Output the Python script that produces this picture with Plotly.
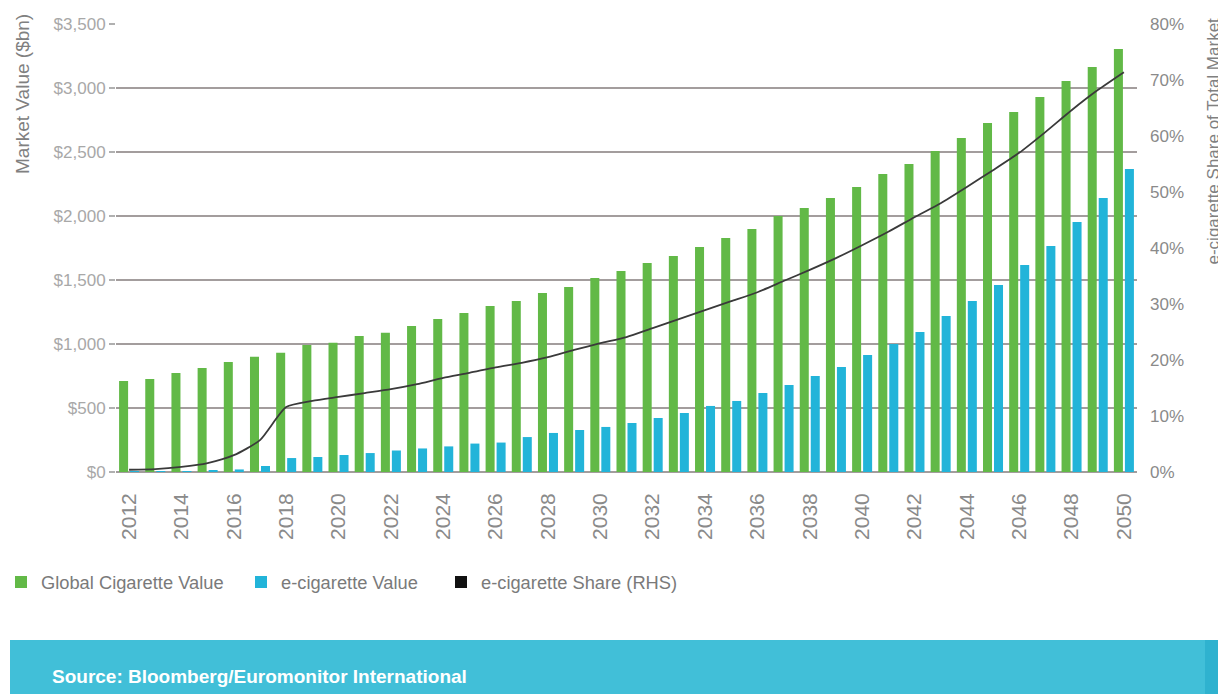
import plotly.graph_objects as go

# ---------------- data ----------------
years = [str(y) for y in range(2012, 2051)]

cig_value = [711, 727, 773, 813, 859, 901, 932, 992, 1010, 1063,
             1088, 1141, 1195, 1242, 1297, 1336, 1398, 1445, 1516, 1570,
             1633, 1688, 1758, 1828, 1898, 2000, 2063, 2141, 2227, 2328,
             2406, 2508, 2609, 2727, 2813, 2930, 3055, 3164, 3305]

ecig_value = [3, 5, 7, 10, 20, 47, 109, 117, 133, 148,
              168, 184, 200, 222, 230, 273, 305, 328, 352, 383,
              422, 461, 516, 555, 617, 680, 750, 820, 914, 1000,
              1094, 1219, 1336, 1461, 1617, 1766, 1953, 2141, 2367]

ecig_share = [0.4, 0.5, 0.9, 1.6, 3.0, 5.7, 11.6, 12.7, 13.4, 14.1,
              14.8, 15.7, 16.8, 17.7, 18.7, 19.5, 20.5, 21.8, 23.0, 24.1,
              25.7, 27.3, 28.9, 30.5, 32.1, 34.1, 36.1, 38.2, 40.5, 42.9,
              45.5, 48.0, 50.9, 53.9, 57.0, 60.7, 64.6, 68.2, 71.4]

left_tickvals = [0, 500, 1000, 1500, 2000, 2500, 3000, 3500]
left_ticktext = ["$0", "$500", "$1,000", "$1,500", "$2,000", "$2,500", "$3,000", "$3,500"]
right_tickvals = [0, 10, 20, 30, 40, 50, 60, 70, 80]
right_ticktext = ["0%", "10%", "20%", "30%", "40%", "50%", "60%", "70%", "80%"]
year_ticks = years[::2]

series_names = ["Global Cigarette Value", "e-cigarette Value", "e-cigarette Share (RHS)"]
source_text = "Source: Bloomberg/Euromonitor International"

# ---------------- layout geometry (page pixels) ----------------
PAGE_W, PAGE_H = 1226, 694
OFF = 8                      # default body margin of the html page
W_PX, H_PX = PAGE_W - OFF, PAGE_H - OFF
L, R, T, B = 116, 1137, 24, 472   # plot area in page pixels
PW, PH = R - L, B - T


def px_x(p):
    return (p - L) / PW


def px_y(p):
    return (B - p) / PH


GREEN = "#62b947"
BLUE = "#22b4d9"
LINE = "#3a3a3a"
GRID = "#a39d9d"
TXT = "#8a8a8a"
FONT = "Liberation Sans, Arial, sans-serif"

fig = go.Figure()
fig.add_trace(go.Bar(x=years, y=cig_value, name=series_names[0], legend="legend",
                     marker=dict(color=GREEN, line=dict(width=0))))
fig.add_trace(go.Bar(x=years, y=ecig_value, name=series_names[1], legend="legend2",
                     marker=dict(color=BLUE, line=dict(width=0))))
fig.add_trace(go.Scatter(x=years, y=ecig_share, name=series_names[2], yaxis="y2",
                         mode="lines", line=dict(color=LINE, width=1.8, shape="spline", smoothing=0.6),
                         showlegend=False))
# legend entry for the share line drawn as a black square, like the reference
fig.add_trace(go.Scatter(x=[None], y=[None], name=series_names[2], yaxis="y2", legend="legend3",
                         mode="markers", marker=dict(symbol="square", color="#111111", size=12)))


def legend_at(px_left):
    return dict(orientation="h", x=px_x(px_left), xanchor="left", y=px_y(582), yanchor="middle",
                font=dict(size=18.3, color="#7a7a7a", family=FONT),
                bgcolor="rgba(0,0,0,0)", itemclick=False)


fig.update_layout(
    width=W_PX, height=H_PX,
    margin=dict(l=L - OFF, r=PAGE_W - R, t=T - OFF, b=PAGE_H - B, pad=0, autoexpand=False),
    paper_bgcolor="white", plot_bgcolor="white",
    barmode="group", bargap=0.16, bargroupgap=0.18,
    font=dict(family=FONT, color=TXT, size=16),
    showlegend=True,
    legend=legend_at(1),
    legend2=legend_at(241),
    legend3=legend_at(441),
    xaxis=dict(type="category", range=[-0.5, len(years) - 0.5],
               tickmode="array", tickvals=year_ticks, ticktext=year_ticks,
               tickangle=-90, tickfont=dict(size=21, color=TXT),
               showgrid=False, showline=False, ticks="", zeroline=False,
               ticklabelstandoff=16),
    yaxis=dict(range=[0, 3500], tickmode="array", tickvals=left_tickvals, ticktext=left_ticktext,
               showgrid=True, gridcolor=GRID, gridwidth=2,
               zeroline=True, zerolinecolor=GRID, zerolinewidth=2,
               ticks="outside", ticklen=6, tickwidth=2, tickcolor="#b0b0b0",
               tickfont=dict(size=17, color="#a8a8a8"), showline=False),
    yaxis2=dict(range=[0, 80], overlaying="y", side="right",
                tickmode="array", tickvals=right_tickvals, ticktext=right_ticktext,
                showgrid=False, zeroline=False, showline=False, ticks="",
                tickfont=dict(size=17, color=TXT), ticklabelstandoff=12),
)

# axis titles (top-aligned, rotated)
fig.add_annotation(text="Market Value ($bn)", xref="paper", yref="paper",
                   x=px_x(22), y=px_y(12), xanchor="center", yanchor="top",
                   textangle=-90, showarrow=False, font=dict(size=19, color="#808080"))
fig.add_annotation(text="e-cigarette Share of Total Market", xref="paper", yref="paper",
                   x=px_x(1213), y=px_y(16), xanchor="center", yanchor="top",
                   textangle=-90, showarrow=False, font=dict(size=17, color="#808080"))

# source band
fig.add_shape(type="rect", xref="paper", yref="paper",
              x0=px_x(10), x1=px_x(PAGE_W), y0=px_y(PAGE_H), y1=px_y(640),
              fillcolor="#41bfd8", line=dict(width=0), layer="below")
fig.add_shape(type="rect", xref="paper", yref="paper",
              x0=px_x(1205), x1=px_x(PAGE_W), y0=px_y(PAGE_H), y1=px_y(640),
              fillcolor="#2fb2cf", line=dict(width=0), layer="below")
fig.add_annotation(text="<b>" + source_text + "</b>", xref="paper", yref="paper",
                   x=px_x(50), y=px_y(676), xanchor="left", yanchor="middle",
                   showarrow=False, font=dict(size=19, color="white", family="Liberation Sans, Arial"))

fig.write_html("out.html")
